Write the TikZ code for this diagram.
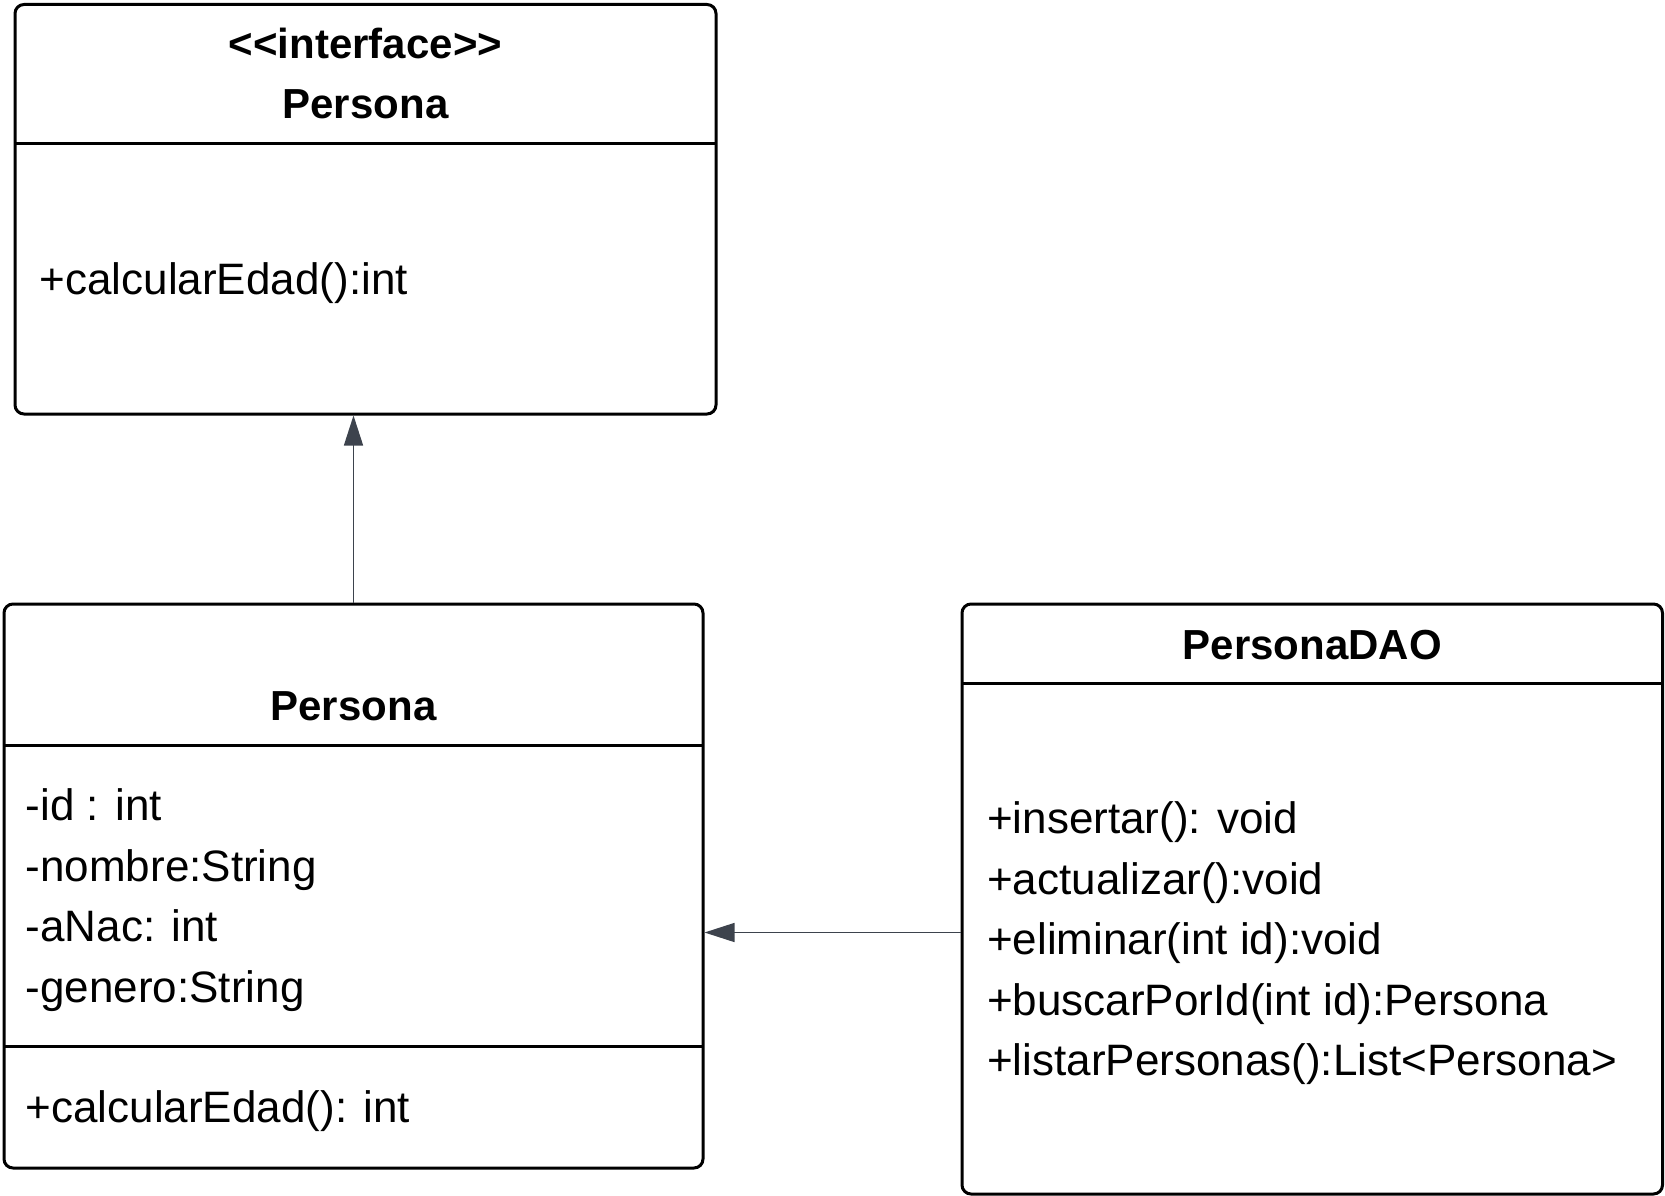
\documentclass[tikz,border=0pt]{standalone}
\usepackage{fontspec}
\setmainfont{Liberation Sans}
\usetikzlibrary{arrows.meta}
\definecolor{conncol}{HTML}{3D434D}
\tikzset{
  classbox/.style={draw=black,line width=3pt,rounded corners=9pt,inner sep=0pt,fill=white},
  divider/.style={draw=black,line width=3pt},
  titletext/.style={inner sep=0pt,anchor=base,font=\fontsize{42}{50}\selectfont\bfseries},
  membertext/.style={inner sep=0pt,anchor=base west,font=\fontsize{44}{52}\selectfont},
  conn/.style={draw=conncol,line width=1.5pt,-{Triangle[length=30pt,width=19pt]}}
}
\begin{document}
\begin{tikzpicture}[x=1pt,y=-1pt]
\useasboundingbox (0,0) rectangle (1665,1196);
% boxes
\node[classbox,minimum width=701pt,minimum height=409.5pt] (iface) at (365.5,209.25) {};
\node[classbox,minimum width=699pt,minimum height=564pt] (persona) at (353.5,886) {};
\node[classbox,minimum width=700.5pt,minimum height=590pt] (dao) at (1312.25,899) {};
% dividers
\draw[divider] (15,143.5) -- (716,143.5);
\draw[divider] (4,745) -- (703,745);
\draw[divider] (4,1046) -- (703,1046);
\draw[divider] (962,683) -- (1662.5,683);
% interface texts
\node[titletext] (ifstereo) at (365.5,58.6) {<\kern0pt<interface>\kern0pt>};
\node[titletext] (ifname) at (365.5,118.9) {Persona};
\node[membertext] (ifm1) at (39.5,294.5) {+calcularEdad():int};
% Persona texts
\node[titletext] (pname) at (353.5,720) {Persona};
\node[membertext] (pa1) at (25.5,820.7) {-id : int};
\node[membertext] (pa2) at (25.5,881.2) {-nombre:String};
\node[membertext] (pa3) at (25.5,941.7) {-aNac: int};
\node[membertext] (pa4) at (25.5,1002.3) {-genero:String};
\node[membertext] (pm1) at (25.5,1122.3) {+calcularEdad(): int};
% DAO texts
\node[titletext] (dname) at (1312.25,659.8) {PersonaDAO};
\node[membertext] (dm1) at (987,833.4) {+insertar(): void};
\node[membertext] (dm2) at (987,894) {+actualizar():void};
\node[membertext] (dm3) at (987,954.5) {+eliminar(int id):void};
\node[membertext] (dm4) at (987,1015) {+buscarPorId(int id):Persona};
\node[membertext] (dm5) at (987,1075.5) {+listarPersonas():List<Persona>};
% connectors
\draw[conn] (persona.north) -- (persona.north |- iface.south);
\coordinate (daoport) at (960.5,932.5);
\draw[conn] (daoport) -- (daoport -| persona.east);
\end{tikzpicture}
\end{document}
